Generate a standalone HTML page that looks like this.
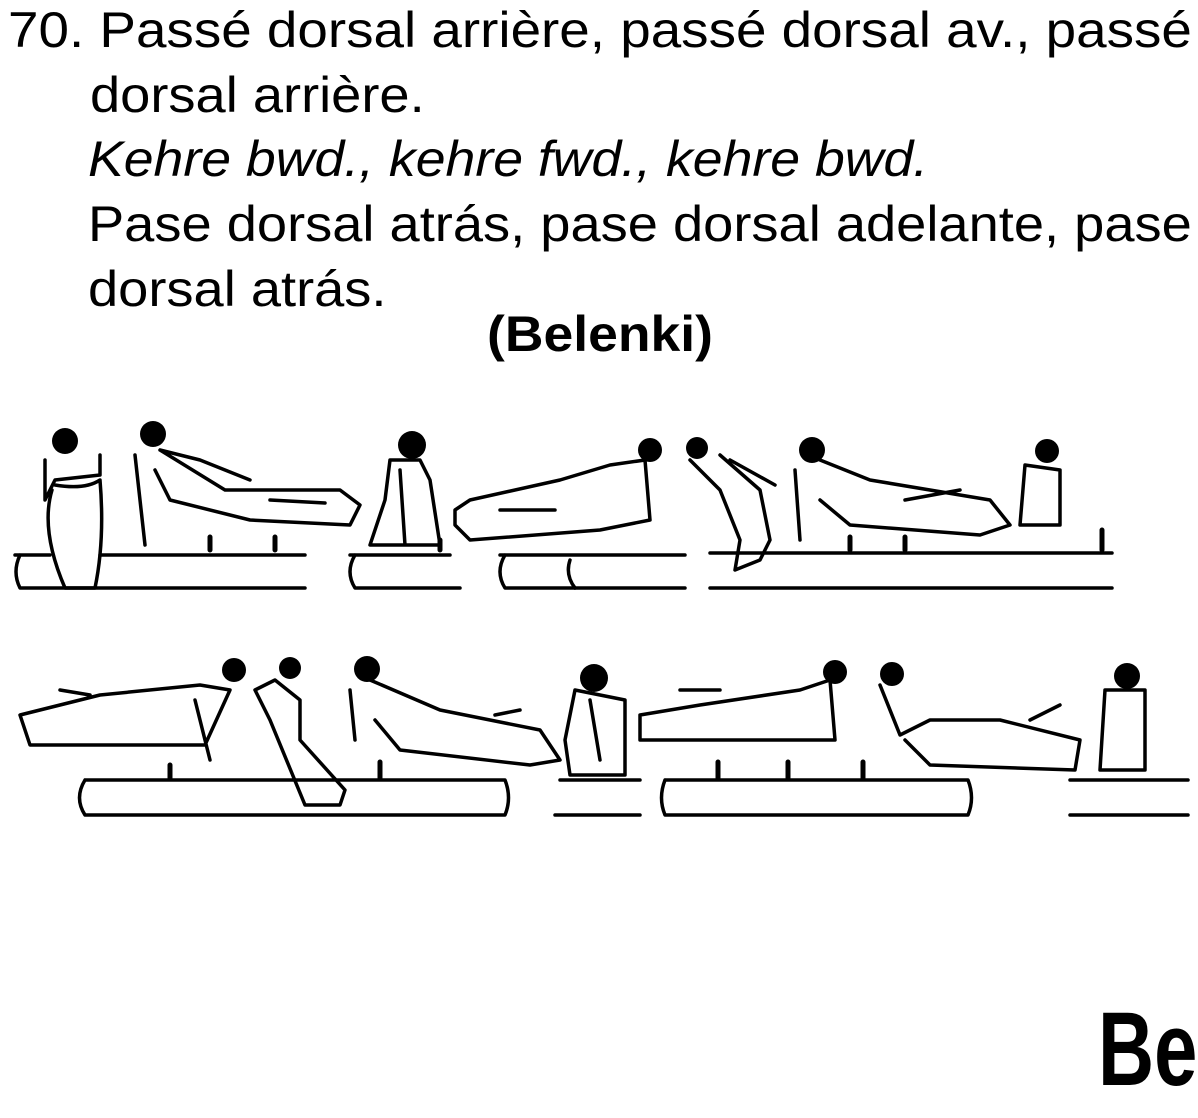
<!DOCTYPE html>
<html><head><meta charset="utf-8"><style>
body{margin:0;width:1198px;height:1118px;background:#fff;overflow:hidden;position:relative;font-family:"Liberation Sans",sans-serif;color:#000}
.t{position:absolute;font-size:50px;line-height:54px;white-space:nowrap;transform:scaleX(1.085);transform-origin:0 0}
svg{position:absolute;left:0;top:0}
</style></head><body>
<div class="t" style="left:8px;top:3px;transform:scaleX(1.096)">70. Passé dorsal arrière, passé dorsal av., passé</div>
<div class="t" style="left:90px;top:68px">dorsal arrière.</div>
<div class="t" style="left:88px;top:132px;font-style:italic;transform:scaleX(1.072)">Kehre bwd., kehre fwd., kehre bwd.</div>
<div class="t" style="left:88px;top:197px">Pase dorsal atrás, pase dorsal adelante, pase</div>
<div class="t" style="left:88px;top:262px">dorsal atrás.</div>
<div class="t" style="left:487px;top:307px;font-weight:bold;transform:scaleX(1.07)">(Belenki)</div>
<div class="t" style="left:1098px;top:995px;font-size:105px;line-height:110px;transform:scaleX(0.74);font-weight:bold">Be</div>
<svg width="1198" height="1118" fill="none" stroke="#000" stroke-width="3.5" stroke-linecap="round" stroke-linejoin="round">
<g>
<path d="M20 555 Q12 572 20 588 L305 588 M15 555 L50 555 M100 555 L305 555"/>
<path d="M355 555 Q345 572 355 588 L460 588 M350 555 L450 555"/>
<path d="M505 555 Q495 572 505 588 L685 588 M500 555 L685 555"/>
<path d="M570 560 Q565 575 575 588 M710 588 L1112 588 M710 553 L1112 553"/>
</g>
<g>
<path d="M85 780 Q74 798 85 815 L505 815 Q512 798 505 780 L85 780"/>
<path d="M560 780 L640 780 M555 815 L640 815"/>
<path d="M665 780 Q658 798 665 815 L968 815 Q975 798 968 780 L665 780"/>
<path d="M1070 780 L1188 780 M1070 815 L1188 815"/>
</g>
<g>
<g fill="#000" stroke="none">
<circle cx="65" cy="441" r="13"/><circle cx="153" cy="434" r="13"/><circle cx="412" cy="445" r="14"/>
<circle cx="650" cy="450" r="12"/><circle cx="697" cy="448" r="11"/><circle cx="812" cy="450" r="13"/><circle cx="1047" cy="451" r="12"/>
<circle cx="234" cy="670" r="12"/><circle cx="290" cy="668" r="11"/><circle cx="367" cy="669" r="13"/><circle cx="594" cy="678" r="14"/>
<circle cx="835" cy="672" r="12"/><circle cx="892" cy="674" r="12"/><circle cx="1127" cy="676" r="13"/>
</g>
<path d="M45 460 L45 500 L55 480 L100 475 L100 455 M52 490 Q40 530 65 588 L95 588 Q105 540 100 480 Q85 490 55 485"/>
<path d="M135 455 L145 545 M160 450 L225 490 L340 490 L360 505 L350 525 L250 520 L170 500 L155 470 M160 450 L200 460 L250 480 M270 500 L325 503"/>
<path d="M390 460 L385 500 L370 545 L440 545 L430 480 L420 460 Z M400 470 L405 545"/>
<path d="M455 510 L470 500 L560 480 L610 465 L645 460 L650 520 L600 530 L470 540 L455 525 Z M500 510 L555 510"/>
<path d="M690 460 L720 490 L740 540 L735 570 L760 560 L770 540 L760 490 L720 455 M730 460 L775 485"/>
<path d="M795 470 L800 540 M820 460 L870 480 L990 500 L1010 525 L980 535 L850 525 L820 500 M905 500 L960 490"/>
<path d="M1025 465 L1020 525 L1060 525 L1060 470 Z"/>
<path d="M20 715 L100 695 L200 685 L230 690 L205 745 L30 745 Z M60 690 L90 695 M195 700 L210 760"/>
<path d="M255 690 L275 680 L300 700 L300 740 L345 790 L340 805 L305 805 L270 720 Z"/>
<path d="M350 690 L355 740 M370 680 L440 710 L540 730 L560 760 L530 765 L400 750 L375 720 M495 715 L520 710"/>
<path d="M575 690 L565 740 L570 775 L625 775 L625 700 Z M590 700 L600 760"/>
<path d="M640 715 L700 705 L800 690 L830 680 L835 740 L640 740 Z M680 690 L720 690"/>
<path d="M880 685 L900 735 L930 720 L1000 720 L1080 740 L1075 770 L930 765 L905 740 M1030 720 L1060 705"/>
<path d="M1105 690 L1100 770 L1145 770 L1145 690 Z"/>
</g>
<g stroke-width="5">
<path d="M210 537 L210 550 M275 537 L275 550 M440 540 L440 550 M850 537 L850 550 M905 537 L905 550 M1102 530 L1102 550"/>
<path d="M170 765 L170 778 M380 762 L380 778 M718 762 L718 778 M788 762 L788 778 M863 762 L863 778"/>
</g>
</g>
</svg>
</body></html>
